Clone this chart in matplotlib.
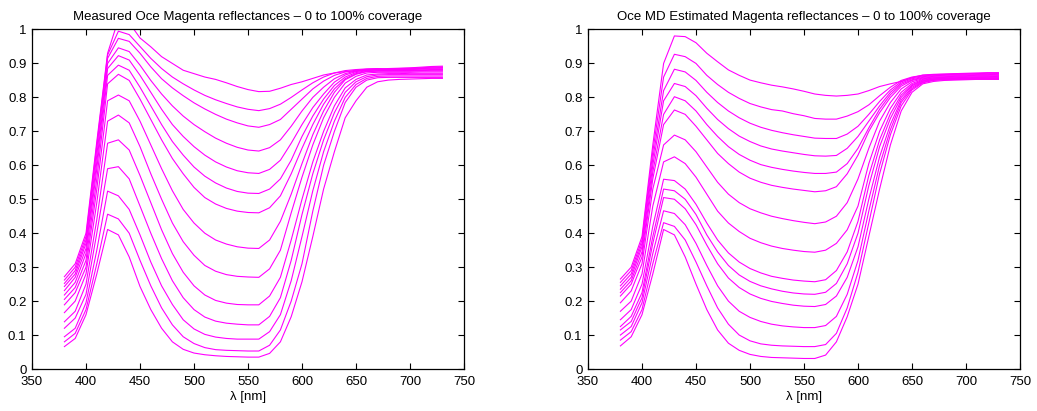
import matplotlib
matplotlib.use("Agg")
import matplotlib.pyplot as plt

plt.rcParams['font.family'] = ['Liberation Sans', 'DejaVu Sans']

wavelengths = list(range(380, 740, 10))

# measured reflectances, 0% (top) to 100% (bottom) coverage
measured = [
    [0.272, 0.31, 0.40, 0.67, 0.93, 1.03, 1.02, 0.975, 0.949, 0.92,
     0.90, 0.88, 0.87, 0.86, 0.853, 0.843, 0.832, 0.823, 0.817, 0.818,
     0.827, 0.838, 0.846, 0.856, 0.866, 0.872, 0.876, 0.878, 0.88, 0.882,
     0.885, 0.886, 0.887, 0.889, 0.891, 0.892],
    [0.262, 0.30, 0.39, 0.66, 0.925, 0.995, 0.985, 0.95, 0.915, 0.885,
     0.86, 0.84, 0.822, 0.806, 0.793, 0.782, 0.772, 0.765, 0.761, 0.767,
     0.78, 0.80, 0.822, 0.843, 0.86, 0.872, 0.879, 0.882, 0.884, 0.885,
     0.884, 0.885, 0.886, 0.887, 0.889, 0.89],
    [0.252, 0.29, 0.38, 0.65, 0.915, 0.974, 0.965, 0.93, 0.89, 0.855,
     0.828, 0.805, 0.784, 0.766, 0.75, 0.736, 0.725, 0.716, 0.712, 0.72,
     0.735, 0.765, 0.795, 0.825, 0.848, 0.865, 0.875, 0.88, 0.883, 0.884,
     0.883, 0.884, 0.885, 0.886, 0.887, 0.888],
    [0.243, 0.28, 0.37, 0.63, 0.90, 0.946, 0.935, 0.895, 0.85, 0.81,
     0.775, 0.745, 0.72, 0.699, 0.68, 0.665, 0.653, 0.645, 0.642, 0.652,
     0.675, 0.715, 0.76, 0.80, 0.83, 0.855, 0.87, 0.878, 0.882, 0.883,
     0.882, 0.883, 0.884, 0.885, 0.886, 0.886],
    [0.231, 0.27, 0.355, 0.61, 0.885, 0.923, 0.91, 0.865, 0.815, 0.765,
     0.72, 0.685, 0.655, 0.63, 0.61, 0.595, 0.584, 0.578, 0.576, 0.588,
     0.615, 0.665, 0.72, 0.77, 0.81, 0.845, 0.866, 0.876, 0.881, 0.882,
     0.881, 0.882, 0.882, 0.883, 0.884, 0.884],
    [0.218, 0.255, 0.34, 0.59, 0.865, 0.895, 0.88, 0.83, 0.775, 0.72,
     0.67, 0.63, 0.595, 0.568, 0.548, 0.533, 0.523, 0.518, 0.517, 0.53,
     0.56, 0.615, 0.685, 0.745, 0.795, 0.835, 0.86, 0.873, 0.879, 0.881,
     0.88, 0.88, 0.881, 0.881, 0.882, 0.882],
    [0.205, 0.24, 0.32, 0.56, 0.84, 0.868, 0.85, 0.795, 0.735, 0.675,
     0.62, 0.575, 0.535, 0.505, 0.486, 0.473, 0.465, 0.461, 0.46, 0.475,
     0.51, 0.575, 0.65, 0.72, 0.78, 0.825, 0.855, 0.87, 0.877, 0.879,
     0.879, 0.879, 0.879, 0.879, 0.88, 0.88],
    [0.189, 0.225, 0.30, 0.53, 0.79, 0.807, 0.79, 0.73, 0.66, 0.59,
     0.525, 0.47, 0.43, 0.40, 0.38, 0.368, 0.36, 0.356, 0.355, 0.38,
     0.435, 0.515, 0.605, 0.69, 0.76, 0.815, 0.852, 0.868, 0.876, 0.877,
     0.877, 0.877, 0.877, 0.878, 0.878, 0.878],
    [0.166, 0.20, 0.28, 0.49, 0.73, 0.748, 0.725, 0.655, 0.575, 0.50,
     0.43, 0.375, 0.335, 0.305, 0.288, 0.278, 0.273, 0.271, 0.27, 0.295,
     0.35, 0.46, 0.565, 0.66, 0.74, 0.80, 0.842, 0.862, 0.872, 0.874,
     0.874, 0.874, 0.874, 0.875, 0.875, 0.875],
    [0.139, 0.17, 0.25, 0.44, 0.665, 0.675, 0.645, 0.57, 0.49, 0.41,
     0.34, 0.285, 0.245, 0.218, 0.202, 0.194, 0.19, 0.189, 0.189, 0.215,
     0.27, 0.38, 0.50, 0.61, 0.70, 0.775, 0.828, 0.853, 0.866, 0.869,
     0.87, 0.87, 0.871, 0.871, 0.871, 0.871],
    [0.120, 0.15, 0.22, 0.40, 0.59, 0.596, 0.56, 0.48, 0.40, 0.325,
     0.26, 0.21, 0.175, 0.153, 0.141, 0.135, 0.132, 0.13, 0.13, 0.155,
     0.21, 0.32, 0.455, 0.575, 0.675, 0.755, 0.815, 0.846, 0.861, 0.866,
     0.867, 0.867, 0.867, 0.867, 0.867, 0.867],
    [0.095, 0.12, 0.195, 0.35, 0.524, 0.51, 0.47, 0.395, 0.315, 0.245,
     0.19, 0.145, 0.118, 0.102, 0.094, 0.09, 0.088, 0.088, 0.088, 0.11,
     0.16, 0.26, 0.39, 0.525, 0.64, 0.73, 0.80, 0.838, 0.856, 0.862,
     0.863, 0.863, 0.863, 0.863, 0.863, 0.863],
    [0.080, 0.105, 0.175, 0.31, 0.456, 0.442, 0.40, 0.32, 0.245, 0.18,
     0.13, 0.095, 0.075, 0.063, 0.057, 0.055, 0.054, 0.053, 0.053, 0.07,
     0.115, 0.20, 0.31, 0.465, 0.60, 0.70, 0.785, 0.83, 0.851, 0.858,
     0.859, 0.859, 0.859, 0.859, 0.859, 0.859],
    [0.066, 0.09, 0.16, 0.28, 0.411, 0.395, 0.33, 0.243, 0.175, 0.12,
     0.08, 0.058, 0.047, 0.042, 0.039, 0.037, 0.036, 0.035, 0.035, 0.046,
     0.08, 0.154, 0.257, 0.39, 0.53, 0.64, 0.74, 0.79, 0.83, 0.846,
     0.851, 0.853, 0.854, 0.855, 0.856, 0.856],
]

# model (Oce MD) estimated reflectances
estimated = [
    [0.265, 0.30, 0.39, 0.66, 0.90, 0.981, 0.979, 0.961, 0.93, 0.905,
     0.881, 0.865, 0.851, 0.843, 0.836, 0.831, 0.825, 0.818, 0.81, 0.806,
     0.804, 0.806, 0.81, 0.82, 0.832, 0.84, 0.847, 0.858, 0.866, 0.868,
     0.869, 0.87, 0.871, 0.872, 0.873, 0.873],
    [0.255, 0.29, 0.38, 0.64, 0.86, 0.927, 0.92, 0.90, 0.865, 0.838,
     0.815, 0.797, 0.782, 0.772, 0.764, 0.76, 0.752, 0.746, 0.738, 0.736,
     0.736, 0.745, 0.758, 0.778, 0.805, 0.83, 0.85, 0.86, 0.865, 0.867,
     0.868, 0.869, 0.87, 0.87, 0.871, 0.871],
    [0.245, 0.28, 0.37, 0.62, 0.82, 0.883, 0.875, 0.85, 0.815, 0.785,
     0.76, 0.74, 0.724, 0.712, 0.703, 0.696, 0.69, 0.685, 0.68, 0.679,
     0.679, 0.692, 0.715, 0.75, 0.788, 0.822, 0.846, 0.858, 0.863, 0.866,
     0.867, 0.868, 0.868, 0.869, 0.869, 0.87],
    [0.235, 0.27, 0.36, 0.60, 0.79, 0.841, 0.832, 0.805, 0.768, 0.735,
     0.708, 0.686, 0.67, 0.657, 0.648, 0.642, 0.637, 0.632, 0.628, 0.627,
     0.629, 0.65, 0.685, 0.73, 0.775, 0.815, 0.842, 0.855, 0.861, 0.864,
     0.865, 0.866, 0.866, 0.867, 0.867, 0.868],
    [0.225, 0.26, 0.345, 0.58, 0.75, 0.802, 0.79, 0.76, 0.72, 0.685,
     0.655, 0.632, 0.615, 0.602, 0.594, 0.588, 0.583, 0.579, 0.576, 0.576,
     0.58, 0.605, 0.65, 0.71, 0.765, 0.808, 0.838, 0.852, 0.859, 0.862,
     0.863, 0.864, 0.864, 0.865, 0.865, 0.866],
    [0.215, 0.25, 0.33, 0.56, 0.72, 0.763, 0.75, 0.715, 0.675, 0.635,
     0.605, 0.58, 0.562, 0.55, 0.541, 0.535, 0.53, 0.526, 0.522, 0.525,
     0.537, 0.575, 0.63, 0.70, 0.755, 0.80, 0.833, 0.85, 0.857, 0.86,
     0.861, 0.862, 0.862, 0.863, 0.863, 0.864],
    [0.195, 0.23, 0.31, 0.53, 0.66, 0.689, 0.675, 0.64, 0.595, 0.55,
     0.515, 0.49, 0.472, 0.46, 0.45, 0.443, 0.437, 0.432, 0.428, 0.433,
     0.45, 0.49, 0.56, 0.65, 0.73, 0.785, 0.825, 0.846, 0.855, 0.858,
     0.859, 0.86, 0.86, 0.861, 0.861, 0.862],
    [0.17, 0.20, 0.28, 0.48, 0.61, 0.625, 0.605, 0.565, 0.515, 0.465,
     0.43, 0.405, 0.385, 0.372, 0.362, 0.355, 0.35, 0.346, 0.344, 0.35,
     0.37, 0.41, 0.48, 0.605, 0.70, 0.768, 0.815, 0.841, 0.853, 0.857,
     0.858, 0.858, 0.859, 0.859, 0.86, 0.86],
    [0.145, 0.175, 0.25, 0.42, 0.559, 0.555, 0.53, 0.485, 0.43, 0.38,
     0.342, 0.315, 0.296, 0.283, 0.273, 0.267, 0.262, 0.259, 0.257, 0.263,
     0.29, 0.345, 0.435, 0.57, 0.675, 0.752, 0.807, 0.837, 0.851, 0.855,
     0.856, 0.857, 0.857, 0.858, 0.858, 0.858],
    [0.125, 0.155, 0.225, 0.39, 0.53, 0.525, 0.50, 0.455, 0.395, 0.345,
     0.305, 0.277, 0.258, 0.245, 0.236, 0.229, 0.224, 0.221, 0.22, 0.226,
     0.252, 0.31, 0.40, 0.54, 0.655, 0.738, 0.80, 0.834, 0.849, 0.854,
     0.855, 0.856, 0.856, 0.857, 0.857, 0.857],
    [0.115, 0.14, 0.21, 0.37, 0.505, 0.50, 0.472, 0.425, 0.365, 0.31,
     0.268, 0.24, 0.221, 0.208, 0.199, 0.193, 0.188, 0.185, 0.184, 0.19,
     0.215, 0.27, 0.36, 0.50, 0.625, 0.72, 0.792, 0.83, 0.847, 0.853,
     0.854, 0.855, 0.855, 0.856, 0.856, 0.856],
    [0.10, 0.125, 0.195, 0.34, 0.466, 0.458, 0.425, 0.37, 0.305, 0.245,
     0.20, 0.17, 0.152, 0.14, 0.132, 0.127, 0.124, 0.122, 0.122, 0.128,
     0.155, 0.22, 0.32, 0.465, 0.60, 0.705, 0.785, 0.826, 0.845, 0.851,
     0.853, 0.854, 0.854, 0.855, 0.855, 0.855],
    [0.085, 0.11, 0.175, 0.31, 0.431, 0.42, 0.38, 0.315, 0.245, 0.18,
     0.132, 0.10, 0.083, 0.074, 0.07, 0.068, 0.067, 0.066, 0.066, 0.072,
     0.105, 0.18, 0.285, 0.43, 0.575, 0.69, 0.775, 0.822, 0.843, 0.85,
     0.852, 0.853, 0.853, 0.854, 0.854, 0.854],
    [0.068, 0.095, 0.16, 0.28, 0.411, 0.395, 0.33, 0.25, 0.175, 0.115,
     0.076, 0.055, 0.043, 0.037, 0.034, 0.033, 0.032, 0.031, 0.031, 0.041,
     0.08, 0.154, 0.25, 0.39, 0.53, 0.66, 0.76, 0.815, 0.84, 0.847,
     0.85, 0.851, 0.852, 0.853, 0.853, 0.853],
]

titles = ['Measured Oce Magenta reflectances \u2013 0 to 100% coverage',
          'Oce MD Estimated Magenta reflectances \u2013 0 to 100% coverage']
x_ticks = [350, 400, 450, 500, 550, 600, 650, 700, 750]
y_ticks = [0, 0.1, 0.2, 0.3, 0.4, 0.5, 0.6, 0.7, 0.8, 0.9, 1]
y_labels = ['0', '0.1', '0.2', '0.3', '0.4', '0.5', '0.6', '0.7', '0.8', '0.9', '1']

fig = plt.figure(figsize=(10.37, 4.11), dpi=100)
ax1 = fig.add_axes([32 / 1037, 42 / 411, 432 / 1037, 339.5 / 411])
ax2 = fig.add_axes([588 / 1037, 42 / 411, 432 / 1037, 339.5 / 411])

for ax, curves, title in [(ax1, measured, titles[0]), (ax2, estimated, titles[1])]:
    for c in curves:
        ax.plot(wavelengths, c, color='#ff00ff', linewidth=0.8)
    ax.set_xlim(350, 750)
    ax.set_ylim(0, 1)
    ax.set_xticks(x_ticks)
    ax.set_yticks(y_ticks)
    ax.set_yticklabels(y_labels)
    ax.tick_params(direction='in', top=True, right=True, labelsize=9.5,
                   length=4, width=0.8)
    ax.tick_params(axis='x', pad=5)
    ax.tick_params(axis='y', pad=4)
    for s in ax.spines.values():
        s.set_linewidth(0.9)
    ax.set_title(title, fontsize=9.5, pad=7)
    ax.set_xlabel('\u03bb [nm]', fontsize=9.5, labelpad=2)

fig.savefig('out.png', dpi=100)
